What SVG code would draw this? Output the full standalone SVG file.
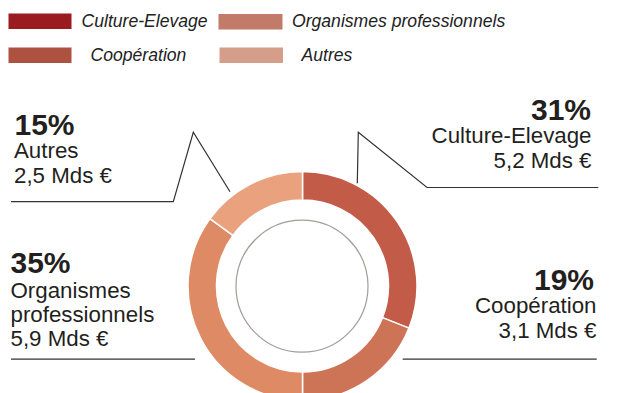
<svg xmlns="http://www.w3.org/2000/svg" width="624" height="393" viewBox="0 0 624 393">
<style>
.leg{font-family:"Liberation Sans",Arial,sans-serif;font-style:italic;font-size:17.6px;fill:#222}
.pct{font-family:"Liberation Sans",Arial,sans-serif;font-weight:bold;font-size:30px;fill:#231f20}
.lbl{font-family:"Liberation Sans",Arial,sans-serif;font-size:22.3px;fill:#231f20}
.end{text-anchor:end}
.seg{stroke:#fff;stroke-width:1.5}
.con{fill:none;stroke:#333;stroke-width:1.2}
</style>
<rect width="624" height="393" fill="#fff"/>
<g id="legend">
<rect x="8.5" y="13.5" width="63" height="15.5" fill="#9b1b1f"/>
<text class="leg" x="81.5" y="26.5">Culture-Elevage</text>
<rect x="218.5" y="14" width="64" height="15.5" fill="#c27b69"/>
<text class="leg" x="292" y="26.5">Organismes professionnels</text>
<rect x="8.5" y="47.5" width="63" height="15.5" fill="#ad5240"/>
<text class="leg" x="90.5" y="60.5">Coopération</text>
<rect x="219.5" y="47.5" width="63.5" height="15.5" fill="#d49e8b"/>
<text class="leg" x="301.5" y="60.5">Autres</text>
</g>
<g id="donut">
<path class="seg" fill="#c35b49" d="M302.5,171.5 A114.5,114.5 0 0 1 408.96,328.15 L382.46,317.66 A86,86 0 0 0 302.5,200 Z"/>
<path class="seg" fill="#cd7457" d="M408.96,328.15 A114.5,114.5 0 0 1 302.5,400.5 L302.5,372 A86,86 0 0 0 382.46,317.66 Z"/>
<path class="seg" fill="#de8a64" d="M302.5,400.5 A114.5,114.5 0 0 1 209.87,218.7 L232.93,235.45 A86,86 0 0 0 302.5,372 Z"/>
<path class="seg" fill="#e9a27d" d="M209.87,218.7 A114.5,114.5 0 0 1 302.5,171.5 L302.5,200 A86,86 0 0 0 232.93,235.45 Z"/>
<circle cx="302" cy="286.2" r="66" fill="none" stroke="#a39c9a" stroke-width="1.2"/>
</g>
<g id="connectors">
<polyline class="con" points="11,201.7 173.3,201.7 193.3,132.3 230,191.7"/>
<polyline class="con" points="357.3,183.3 358.3,132.3 427,187.5 598.3,187.5"/>
<polyline class="con" points="402.7,359.2 596.7,359.2"/>
<polyline class="con" points="11,359.2 195,359.2"/>
</g>
<g id="label-autres">
<text class="pct" x="14.5" y="135">15%</text>
<text class="lbl" x="14" y="158.3">Autres</text>
<text class="lbl" x="14" y="183">2,5 Mds €</text>
</g>
<g id="label-culture">
<text class="pct end" x="591" y="120">31%</text>
<text class="lbl end" x="591.5" y="143.3">Culture-Elevage</text>
<text class="lbl end" x="591.5" y="168">5,2 Mds €</text>
</g>
<g id="label-cooperation">
<text class="pct end" x="594" y="290">19%</text>
<text class="lbl end" x="596.5" y="313.3">Coopération</text>
<text class="lbl end" x="596.5" y="338">3,1 Mds €</text>
</g>
<g id="label-organismes">
<text class="pct" x="10.5" y="273.3">35%</text>
<text class="lbl" x="10.5" y="298">Organismes</text>
<text class="lbl" x="10.5" y="321.7">professionnels</text>
<text class="lbl" x="10.5" y="346">5,9 Mds €</text>
</g>
</svg>
